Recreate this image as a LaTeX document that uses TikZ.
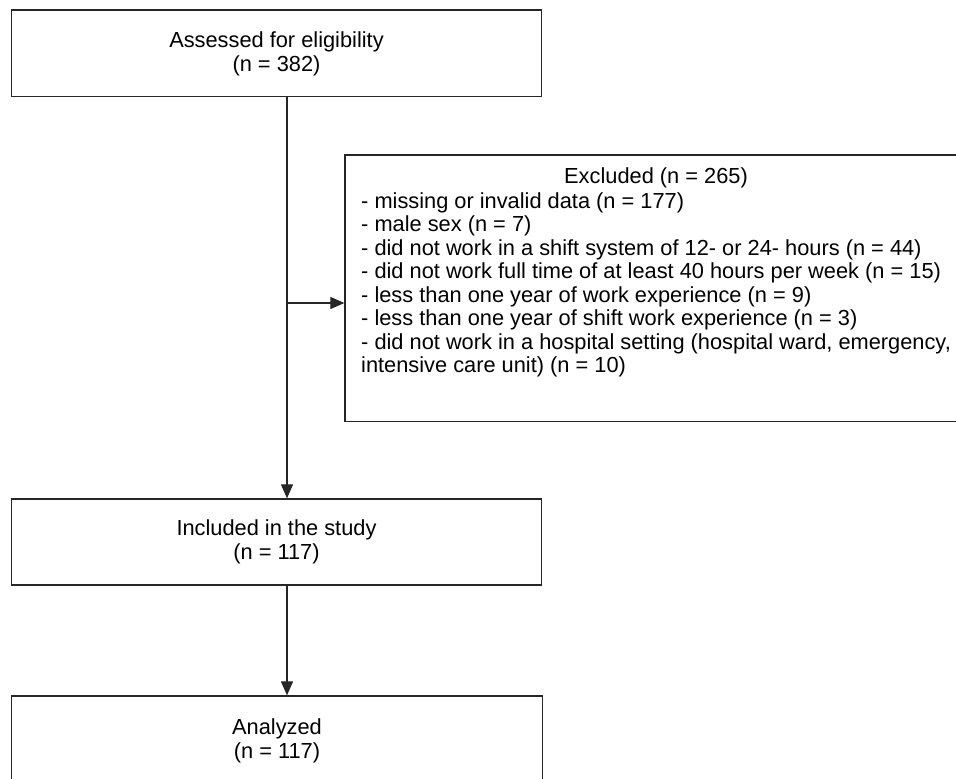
\documentclass[tikz,border=0pt]{standalone}
\usepackage{fontspec}
\setmainfont{Liberation Sans}
\usetikzlibrary{arrows.meta}
\begin{document}
\begin{tikzpicture}[x=1pt,y=-1pt,
  box/.style={draw=black!85, line width=1.3pt, rectangle, inner sep=0pt, align=center,
    font=\fontsize{21.8}{24}\selectfont},
  txt/.style={inner sep=0pt, font=\fontsize{21.8}{23.5}\selectfont},
  arr/.style={draw=black!85, line width=1.1pt, -{Triangle[length=14pt,width=12pt]}},
  ln/.style={draw=black!85, line width=1.1pt}]
\useasboundingbox (0,0) rectangle (956,779);
\node[box, minimum width=530pt, minimum height=86.7pt] (top) at (276.5,53.4)
  {Assessed for eligibility\\(n = 382)};
\node[box, minimum width=622pt, minimum height=266.7pt] (ex) at (656,288.4) {};
\node[txt] (exh) at (656,178) {Excluded (n = 265)};
\node[txt, anchor=north west, align=left] (exl) at (361,192)
  {- missing or invalid data (n = 177)\\
   - male sex (n = 7)\\
   - did not work in a shift system of 12- or 24- hours (n = 44)\\
   - did not work full time of at least 40 hours per week (n = 15)\\
   - less than one year of work experience (n = 9)\\
   - less than one year of shift work experience (n = 3)\\
   - did not work in a hospital setting (hospital ward, emergency,\\
   intensive care unit) (n = 10)};
\node[box, minimum width=530pt, minimum height=86pt] (inc) at (276.5,542)
  {Included in the study\\(n = 117)};
\node[box, minimum width=531pt, minimum height=90pt] (ana) at (277,741)
  {Analyzed\\(n = 117)};
\coordinate (br) at (287,303);
\draw[ln] (top.south -| br) -- (br);
\draw[arr] (br) -- (inc.north -| br);
\draw[arr] (br) -- (br -| ex.west);
\draw[arr] (inc.south -| br) -- (ana.north -| br);
\end{tikzpicture}
\end{document}
